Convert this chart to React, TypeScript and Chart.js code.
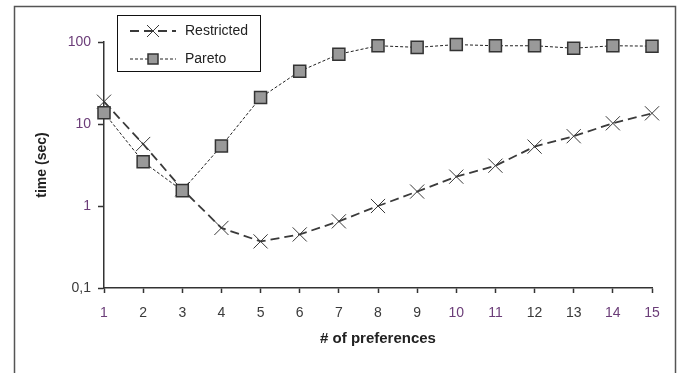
import React, { useEffect, useRef } from "react";
import { Chart, registerables } from "chart.js";

Chart.register(...registerables);

const prefs = [1, 2, 3, 4, 5, 6, 7, 8, 9, 10, 11, 12, 13, 14, 15];
const restricted = [18.7, 5.7, 1.6, 0.54, 0.37, 0.45, 0.65, 1.0, 1.5, 2.28, 3.1, 5.3, 7.1, 10.2, 13.5];
const pareto = [13.7, 3.46, 1.54, 5.4, 21, 44, 71, 90, 86, 93, 90, 90, 84, 90, 89];
const yTickValues = [0.1, 1, 10, 100];
const yTickLabels = ["0,1", "1", "10", "100"];
const xTitle = "# of preferences";
const yTitle = "time (sec)";
const seriesNames = ["Restricted", "Pareto"];

const FONT = "'Liberation Sans', Arial, sans-serif";
const PURPLE = "#6b3d78";
const DARK = "#3a3a3a";

const frameAndLegend = {
  id: "frameAndLegend",
  beforeDraw(chart: any) {
    const ctx = chart.ctx;
    ctx.save();
    ctx.fillStyle = "#ffffff";
    ctx.fillRect(0, 0, chart.width, chart.height);
    ctx.strokeStyle = "#555555";
    ctx.lineWidth = 1.5;
    ctx.strokeRect(14.5, 6.5, 661, 420);
    ctx.restore();
  },
  afterDraw(chart: any) {
    const ctx = chart.ctx;
    ctx.save();
    ctx.fillStyle = "#ffffff";
    ctx.fillRect(117, 15, 143, 56);
    ctx.strokeStyle = "#111111";
    ctx.lineWidth = 1;
    ctx.strokeRect(117.5, 15.5, 143, 56);
    const rows = [31, 59];
    chart.data.datasets.forEach((ds: any) => {
      const idx = seriesNames.indexOf(ds.label);
      const y = rows[idx];
      ctx.save();
      ctx.strokeStyle = ds.borderColor;
      ctx.lineWidth = ds.borderWidth;
      ctx.setLineDash(ds.borderDash);
      ctx.beginPath();
      ctx.moveTo(130, y);
      ctx.lineTo(176, y);
      ctx.stroke();
      ctx.restore();
      ctx.save();
      if (ds.pointStyle === "rect") {
        ctx.fillStyle = ds.pointBackgroundColor;
        ctx.strokeStyle = ds.pointBorderColor;
        ctx.lineWidth = ds.pointBorderWidth;
        ctx.fillRect(148, y - 5, 10, 10);
        ctx.strokeRect(148, y - 5, 10, 10);
      } else {
        ctx.strokeStyle = ds.pointBorderColor;
        ctx.lineWidth = 1;
        ctx.beginPath();
        ctx.moveTo(147, y - 6);
        ctx.lineTo(159, y + 6);
        ctx.moveTo(159, y - 6);
        ctx.lineTo(147, y + 6);
        ctx.stroke();
      }
      ctx.restore();
      ctx.fillStyle = "#222222";
      ctx.font = `14px ${FONT}`;
      ctx.textBaseline = "middle";
      ctx.textAlign = "left";
      ctx.fillText(ds.label, 185, y);
    });
    ctx.restore();
  },
};

export default function App() {
  const ref = useRef<HTMLCanvasElement>(null);
  useEffect(() => {
    if (!ref.current) return;
    const xColors = prefs.map((p) => ([1, 10, 11, 14, 15].includes(p) ? PURPLE : DARK));
    const chart = new Chart(ref.current, {
      type: "line",
      data: {
        datasets: [
          {
            label: seriesNames[0],
            data: prefs.map((p, i) => ({ x: p, y: restricted[i] })),
            borderColor: "#3a3a3a",
            borderWidth: 1.8,
            borderDash: [9, 5],
            pointStyle: "crossRot",
            pointRadius: 10,
            pointBorderColor: "#3a3a3a",
            pointBorderWidth: 1,
            pointBackgroundColor: "#3a3a3a",
            fill: false,
            tension: 0,
            clip: false,
            order: 1,
          },
          {
            label: seriesNames[1],
            data: prefs.map((p, i) => ({ x: p, y: pareto[i] })),
            borderColor: "#222222",
            borderWidth: 1,
            borderDash: [3, 2],
            pointStyle: "rect",
            pointRadius: 8.5,
            pointBorderColor: "#333333",
            pointBorderWidth: 1.5,
            pointBackgroundColor: "#999999",
            fill: false,
            tension: 0,
            clip: false,
            order: 0,
          },
        ] as any,
      },
      options: {
        animation: false,
        responsive: false,
        devicePixelRatio: 1,
        layout: { padding: { left: 0, top: 42, right: 35, bottom: 0 } },
        plugins: { legend: { display: false }, tooltip: { enabled: false } },
        scales: {
          x: {
            type: "linear",
            min: 1,
            max: 15,
            afterFit: (s: any) => {
              s.height = 85;
            },
            afterBuildTicks: (s: any) => {
              s.ticks = prefs.map((v) => ({ value: v }));
            },
            ticks: {
              stepSize: 1,
              autoSkip: false,
              maxRotation: 0,
              padding: 12,
              color: xColors,
              font: { family: FONT, size: 14 },
              callback: (v: any) => String(v),
            },
            grid: {
              drawOnChartArea: false,
              drawTicks: true,
              tickLength: 5,
              tickColor: "#333333",
              tickWidth: 1.5,
            },
            border: { display: true, color: "#333333", width: 1.5 },
            title: {
              display: true,
              text: xTitle,
              color: "#222222",
              font: { family: FONT, size: 15, weight: "bold" },
              padding: { top: 0, bottom: 25 },
            },
          },
          y: {
            type: "logarithmic",
            min: 0.1,
            max: 100,
            afterFit: (s: any) => {
              s.width = 104;
            },
            afterBuildTicks: (s: any) => {
              s.ticks = yTickValues.map((v) => ({ value: v }));
            },
            ticks: {
              autoSkip: false,
              padding: 7,
              color: [DARK, PURPLE, PURPLE, PURPLE],
              font: { family: FONT, size: 14 },
              callback: (v: any) => {
                const i = yTickValues.findIndex((t) => Math.abs(t - v) < 1e-9);
                return i >= 0 ? yTickLabels[i] : "";
              },
            },
            grid: {
              drawOnChartArea: false,
              drawTicks: true,
              tickLength: 6,
              tickColor: "#333333",
              tickWidth: 1.5,
            },
            border: { display: true, color: "#333333", width: 1.5 },
            title: {
              display: true,
              text: yTitle,
              color: "#222222",
              font: { family: FONT, size: 14, weight: "bold" },
              padding: { top: 34, bottom: 0 },
            },
          },
        },
      } as any,
      plugins: [frameAndLegend],
    });
    return () => chart.destroy();
  }, []);
  return (
    <div style={{ position: "absolute", left: 0, top: 0, width: 687, height: 373, background: "#fff" }}>
      <canvas ref={ref} width={687} height={373} style={{ display: "block" }} />
    </div>
  );
}
